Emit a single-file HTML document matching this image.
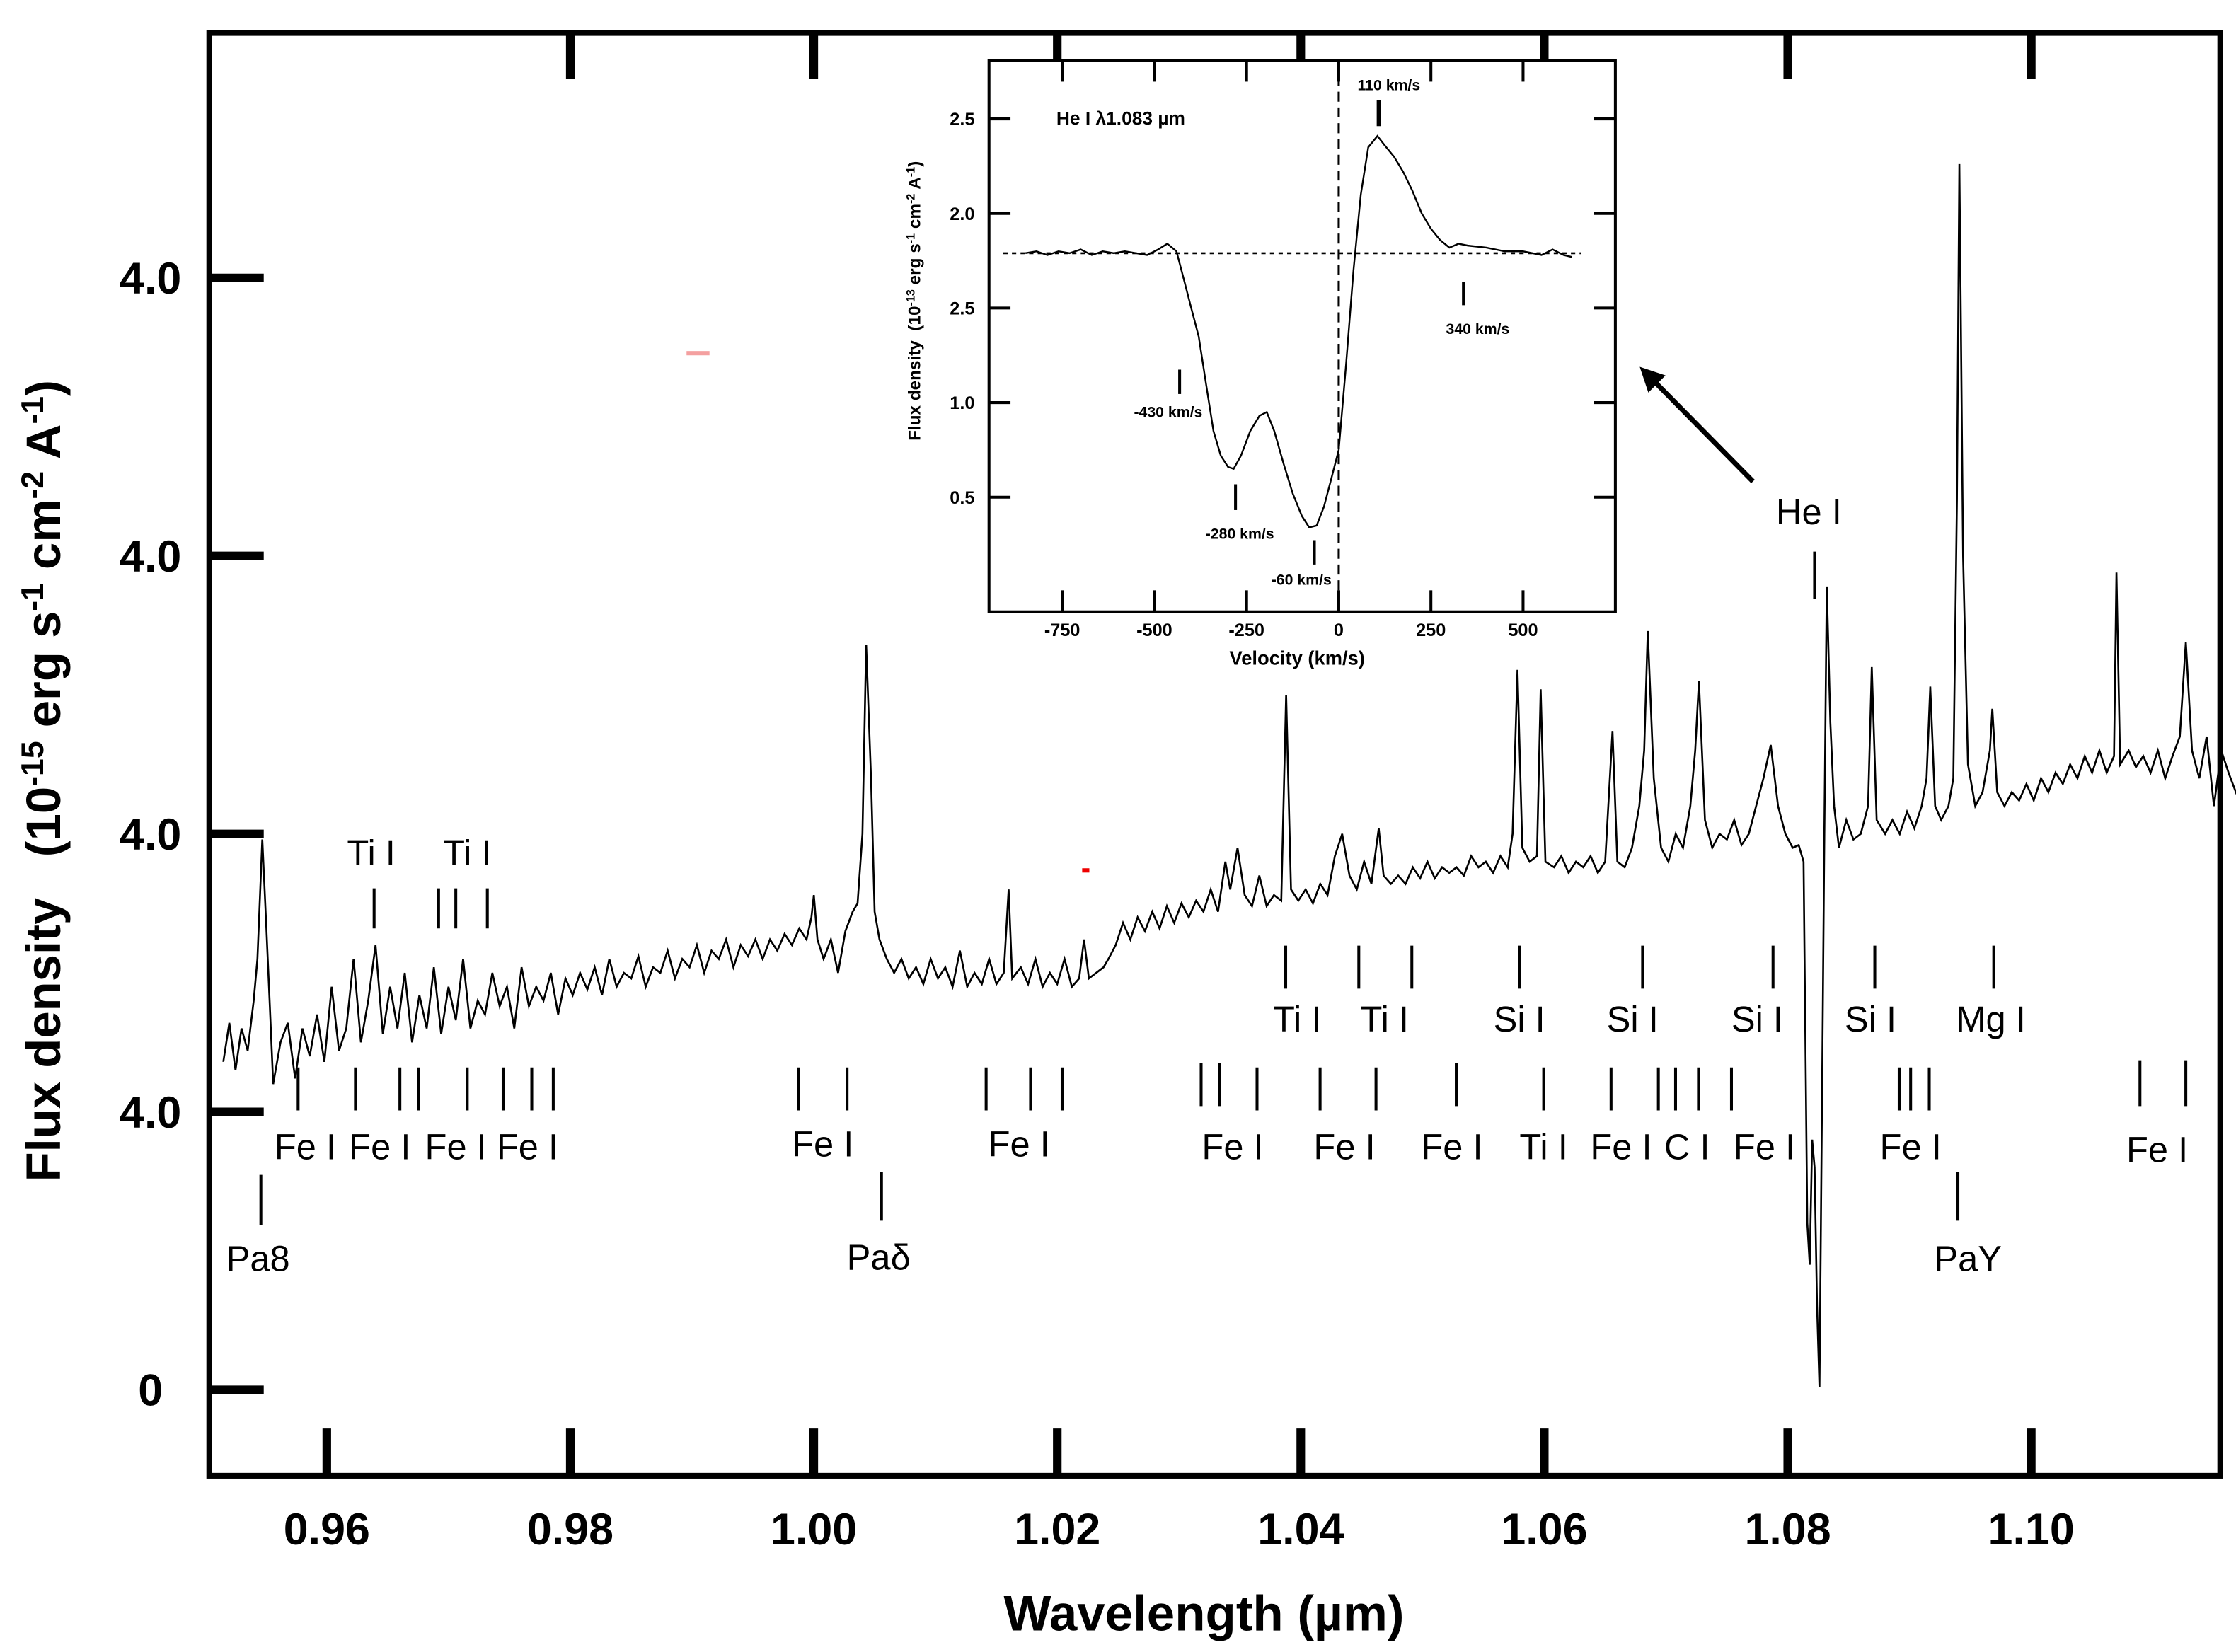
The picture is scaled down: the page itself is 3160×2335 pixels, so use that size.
<!DOCTYPE html>
<html><head><meta charset="utf-8">
<style>
html,body{margin:0;padding:0;background:#fff;}
svg{display:block;}
text{font-family:"Liberation Sans",sans-serif;}
.lab{font-size:25px;fill:#000;}
.tk{font-size:31px;font-weight:bold;}
.it{font-size:12.5px;font-weight:bold;}
</style></head>
<body>
<svg id="chart" xmlns="http://www.w3.org/2000/svg" width="3160" height="2335" viewBox="0 0 1560 1153" preserveAspectRatio="none">
<rect x="0" y="0" width="1560" height="1153" fill="#fff"/>
<g id="main"></g>
<g id="inset"></g>
</svg>
<script>
// ---- main spectrum data ----
const wavelengths = [0.9515,0.9520,0.9525,0.9530,0.9535,0.9540,0.9543,0.9547,0.9550,0.9553,0.9556,0.9562,0.9568,0.9574,0.9580,0.9586,0.9592,0.9598,0.9604,0.9610,0.9616,0.9622,0.9628,0.9634,0.9640,0.9646,0.9652,0.9658,0.9664,0.9670,0.9676,0.9682,0.9688,0.9694,0.9700,0.9706,0.9712,0.9718,0.9724,0.9730,0.9736,0.9742,0.9748,0.9754,0.9760,0.9766,0.9772,0.9778,0.9784,0.9790,0.9796,0.9802,0.9808,0.9814,0.9820,0.9826,0.9832,0.9838,0.9844,0.9850,0.9856,0.9862,0.9868,0.9874,0.9880,0.9886,0.9892,0.9898,0.9904,0.9910,0.9916,0.9922,0.9928,0.9934,0.9940,0.9946,0.9952,0.9958,0.9964,0.9970,0.9976,0.9982,0.9988,0.9994,0.9998,1.0000,1.0003,1.0008,1.0014,1.0020,1.0026,1.0032,1.0036,1.0040,1.0043,1.0047,1.0050,1.0054,1.0060,1.0066,1.0072,1.0078,1.0084,1.0090,1.0096,1.0102,1.0108,1.0114,1.0120,1.0126,1.0132,1.0138,1.0144,1.0150,1.0156,1.0160,1.0163,1.0170,1.0176,1.0182,1.0188,1.0194,1.0200,1.0206,1.0212,1.0218,1.0222,1.0226,1.0232,1.0238,1.0242,1.0248,1.0254,1.0260,1.0266,1.0272,1.0278,1.0284,1.0290,1.0296,1.0302,1.0308,1.0314,1.0320,1.0326,1.0332,1.0338,1.0342,1.0348,1.0354,1.0360,1.0366,1.0372,1.0378,1.0384,1.0388,1.0392,1.0398,1.0404,1.0410,1.0416,1.0422,1.0428,1.0434,1.0440,1.0446,1.0452,1.0458,1.0464,1.0468,1.0474,1.0480,1.0486,1.0492,1.0498,1.0504,1.0510,1.0516,1.0522,1.0528,1.0534,1.0540,1.0546,1.0552,1.0558,1.0564,1.0570,1.0574,1.0578,1.0582,1.0588,1.0594,1.0597,1.0601,1.0608,1.0614,1.0620,1.0626,1.0632,1.0638,1.0644,1.0650,1.0656,1.0660,1.0666,1.0672,1.0678,1.0682,1.0685,1.0690,1.0696,1.0702,1.0708,1.0714,1.0720,1.0724,1.0727,1.0732,1.0738,1.0744,1.0750,1.0756,1.0762,1.0768,1.0774,1.0780,1.0786,1.0792,1.0798,1.0804,1.0809,1.0813,1.0816,1.0818,1.0820,1.0822,1.0824,1.0826,1.0828,1.0830,1.0832,1.0835,1.0838,1.0842,1.0848,1.0854,1.0860,1.0866,1.0869,1.0873,1.0880,1.0886,1.0892,1.0898,1.0904,1.0910,1.0914,1.0917,1.0921,1.0926,1.0932,1.0936,1.0939,1.0941,1.0944,1.0948,1.0954,1.0960,1.0966,1.0968,1.0972,1.0978,1.0984,1.0990,1.0996,1.1002,1.1008,1.1014,1.1020,1.1026,1.1032,1.1038,1.1044,1.1050,1.1056,1.1062,1.1068,1.1070,1.1073,1.1080,1.1086,1.1092,1.1098,1.1104,1.1110,1.1116,1.1122,1.1127,1.1132,1.1138,1.1144,1.1150,1.1156,1.1162,1.1168,1.1171];
const fluxes = [1.18,1.32,1.15,1.30,1.22,1.40,1.55,1.98,1.70,1.40,1.10,1.25,1.32,1.12,1.30,1.20,1.35,1.18,1.45,1.22,1.30,1.55,1.25,1.40,1.60,1.28,1.45,1.30,1.50,1.25,1.42,1.30,1.52,1.28,1.45,1.33,1.55,1.30,1.40,1.35,1.50,1.38,1.45,1.30,1.52,1.38,1.45,1.40,1.50,1.35,1.48,1.42,1.50,1.44,1.52,1.42,1.55,1.45,1.50,1.48,1.56,1.45,1.52,1.50,1.58,1.48,1.55,1.52,1.60,1.50,1.58,1.55,1.62,1.52,1.60,1.56,1.62,1.55,1.62,1.58,1.64,1.60,1.66,1.62,1.70,1.78,1.62,1.55,1.62,1.50,1.65,1.72,1.75,2.00,2.68,2.20,1.72,1.62,1.55,1.50,1.55,1.48,1.52,1.46,1.55,1.48,1.52,1.45,1.58,1.45,1.50,1.46,1.55,1.46,1.50,1.80,1.48,1.52,1.46,1.55,1.45,1.50,1.46,1.55,1.45,1.48,1.62,1.48,1.50,1.52,1.55,1.60,1.68,1.62,1.70,1.65,1.72,1.66,1.74,1.68,1.75,1.70,1.76,1.72,1.80,1.72,1.90,1.80,1.95,1.78,1.74,1.85,1.74,1.78,1.76,2.50,1.80,1.76,1.80,1.75,1.82,1.78,1.92,2.00,1.85,1.80,1.90,1.82,2.02,1.85,1.82,1.85,1.82,1.88,1.84,1.90,1.84,1.88,1.86,1.88,1.85,1.92,1.88,1.90,1.86,1.92,1.88,2.00,2.59,1.95,1.90,1.92,2.52,1.90,1.88,1.92,1.86,1.90,1.88,1.92,1.86,1.90,2.37,1.90,1.88,1.95,2.10,2.30,2.73,2.20,1.95,1.90,2.00,1.95,2.10,2.30,2.55,2.05,1.95,2.00,1.98,2.05,1.96,2.00,2.10,2.20,2.32,2.10,2.00,1.95,1.96,1.90,0.60,0.45,0.90,0.80,0.30,0.01,1.00,2.00,2.89,2.40,2.10,1.95,2.05,1.98,2.00,2.10,2.60,2.05,2.00,2.05,2.00,2.08,2.02,2.10,2.20,2.53,2.10,2.05,2.10,2.20,3.20,4.41,3.00,2.25,2.10,2.15,2.30,2.45,2.15,2.10,2.15,2.12,2.18,2.12,2.20,2.15,2.22,2.18,2.25,2.20,2.28,2.22,2.30,2.22,2.28,2.94,2.25,2.30,2.24,2.28,2.22,2.30,2.20,2.28,2.35,2.69,2.30,2.20,2.35,2.10,2.30,2.22,2.15,2.18];
const xTicks = [0.96,0.98,1.00,1.02,1.04,1.06,1.08,1.10];
const xTickLabels = ["0.96","0.98","1.00","1.02","1.04","1.06","1.08","1.10"];
const yTicks = [0,1,2,3,4];
const yTickLabels = ["0","4.0","4.0","4.0","4.0"];
// ---- inset data ----
const velocities = [-850,-820,-790,-760,-730,-700,-670,-640,-610,-580,-550,-520,-490,-465,-440,-420,-400,-380,-360,-340,-320,-300,-285,-265,-240,-215,-195,-175,-150,-125,-100,-80,-60,-40,-20,0,20,40,60,80,105,125,150,175,200,225,250,275,300,325,350,400,450,500,550,580,610,633];
const insetFlux = [1.79,1.80,1.78,1.80,1.79,1.81,1.78,1.80,1.79,1.80,1.79,1.78,1.81,1.84,1.80,1.65,1.50,1.35,1.10,0.85,0.72,0.66,0.65,0.72,0.85,0.93,0.95,0.85,0.68,0.52,0.40,0.34,0.35,0.45,0.60,0.75,1.20,1.70,2.10,2.35,2.41,2.36,2.30,2.22,2.12,2.00,1.92,1.86,1.82,1.84,1.83,1.82,1.80,1.80,1.78,1.81,1.78,1.77];
const vTicks = [-750,-500,-250,0,250,500];
const vTickLabels = ["-750","-500","-250","0","250","500"];
const fTicks = [0.5,1.0,1.5,2.0,2.5];
const fTickLabels = ["0.5","1.0","2.5","2.0","2.5"];
const insetContinuum = 1.79;

const NS="http://www.w3.org/2000/svg";
function mk(parent,tag,attrs,txt){const e=document.createElementNS(NS,tag);for(const k in attrs)e.setAttribute(k,attrs[k]);if(txt!==undefined)e.textContent=txt;parent.appendChild(e);return e;}
const X=w=>228+(w-0.96)*8494;
const Y=f=>970-f*194;
const VX=v=>934+v*64.3/250;
const VY=f=>413-f*132;

const main=document.getElementById('main');
// frame
let fr=mk(main,'rect',{x:146,y:23,width:1403,height:1007,fill:'none',stroke:'#000','stroke-width':4});


xTicks.forEach((t,i)=>{
  let a=mk(main,'line',{x1:X(t),x2:X(t),y1:997,y2:1030,stroke:'#000','stroke-width':6});
  
  
  if(i>0){let b=mk(main,'line',{x1:X(t),x2:X(t),y1:23,y2:55,stroke:'#000','stroke-width':6});
  
  }
  let l=mk(main,'text',{x:X(t),y:1078,'text-anchor':'middle',class:'tk'},xTickLabels[i]);
  
  
});
yTicks.forEach((t,i)=>{
  let a=mk(main,'line',{x1:146,x2:184,y1:Y(t),y2:Y(t),stroke:'#000','stroke-width':6});
  
  
  let l=mk(main,'text',{x:105,y:Y(t)+11,'text-anchor':'middle',class:'tk'},yTickLabels[i]);
  
  
});
let xt=mk(main,'text',{x:840,y:1138,'text-anchor':'middle','font-size':35,'font-weight':'bold'},'Wavelength (µm)');


let yt=mk(main,'text',{x:0,y:0,'text-anchor':'middle','font-size':34,'font-weight':'bold',transform:'translate(42,545) rotate(-90)'});


yt.innerHTML='Flux density&#160;&#160;&#160;(10<tspan dy="-12" font-size="22">-15</tspan><tspan dy="12"> erg s</tspan><tspan dy="-12" font-size="22">-1</tspan><tspan dy="12"> cm</tspan><tspan dy="-12" font-size="22">-2</tspan><tspan dy="12"> A</tspan><tspan dy="-12" font-size="22">-1</tspan><tspan dy="12">)</tspan>';
// spectrum
let d=wavelengths.map((w,i)=>(i?'L':'M')+X(w).toFixed(1)+','+Y(fluxes[i]).toFixed(1)).join('');
let sp=mk(main,'path',{d:d,fill:'none',stroke:'#000','stroke-width':1.3});


// line identification ticks and labels
const idTicks=[[261,620,648],[306,620,648],[318,620,648],[340,620,648],
[897,660,690],[948,660,690],[985,660,690],[1060,660,690],[1146,660,690],[1237,660,690],[1308,660,690],[1391,660,690],
[208,745,775],[248,745,775],[279,745,775],[292,745,775],[326,745,775],[351,745,775],[371,745,775],[386,745,775],[557,745,775],[591,745,775],[688,745,775],[719,745,775],[741,745,775],[838,742,772],[851,742,772],[877,745,775],[921,745,775],[960,745,775],[1016,742,772],[1077,745,775],[1124,745,775],[1157,745,775],[1169,745,775],[1185,745,775],[1208,745,775],[1325,745,775],[1333,745,775],[1346,745,775],[1493,740,772],[1525,740,772],
[182,820,855],[615,818,852],[1366,818,852],[1266,385,418]];
idTicks.forEach(t=>{let e=mk(main,'line',{x1:t[0],x2:t[0],y1:t[1],y2:t[2],stroke:'#000','stroke-width':2});

});
const idLabels=[["Ti I",259,604],["Ti I",326,604],
["Ti I",905,720],["Ti I",966,720],["Si I",1060,720],["Si I",1139,720],["Si I",1226,720],["Si I",1305,720],["Mg I",1389,720],
["Fe I",213,809],["Fe I",265,809],["Fe I",318,809],["Fe I",368,809],["Fe I",574,807],["Fe I",711,807],["Fe I",860,809],["Fe I",938,809],["Fe I",1013,809],["Ti I",1077,809],["Fe I",1131,809],["C I",1177,809],["Fe I",1231,809],["Fe I",1333,809],["Fe I",1505,811],
["Paδ",180,887],["Paδ",613,886],["PaY",1373,887],["He I",1262,366]];
idLabels.forEach((l,i)=>{let e=mk(main,'text',{x:l[1],y:l[2],'text-anchor':'middle',class:'lab','font-size':i==27?29:25},i==24?'Pa8':l[0]);

});
let ar=mk(main,'line',{x1:1223,y1:336,x2:1154,y2:266,stroke:'#000','stroke-width':3.5});


let ah=mk(main,'polygon',{points:'1144,256 1162,262 1150,274',fill:'#000'});


let rd=mk(main,'rect',{x:479,y:245,width:16,height:3,fill:'#f4a0a0'});


let rd2=mk(main,'rect',{x:755,y:606,width:5,height:3,fill:'#e00'});



// ---- inset ----
const ins=document.getElementById('inset');
let ib=mk(ins,'rect',{x:690,y:42,width:437,height:385,fill:'#fff',stroke:'#000','stroke-width':2});


vTicks.forEach((t,i)=>{
  let a=mk(ins,'line',{x1:VX(t),x2:VX(t),y1:412,y2:427,stroke:'#000','stroke-width':2});
  
  
  let b=mk(ins,'line',{x1:VX(t),x2:VX(t),y1:42,y2:57,stroke:'#000','stroke-width':2});
  
  
  let l=mk(ins,'text',{x:VX(t),y:444,'text-anchor':'middle',class:'it'},vTickLabels[i]);
  
  
});
fTicks.forEach((t,i)=>{
  let a=mk(ins,'line',{x1:690,x2:705,y1:VY(t),y2:VY(t),stroke:'#000','stroke-width':2});
  
  
  let b=mk(ins,'line',{x1:1112,x2:1127,y1:VY(t),y2:VY(t),stroke:'#000','stroke-width':2});
  
  
  let l=mk(ins,'text',{x:680,y:VY(t)+4.5,'text-anchor':'end',class:'it'},fTickLabels[i]);
  
  
});
let vxt=mk(ins,'text',{x:905,y:464,'text-anchor':'middle','font-size':13.5,'font-weight':'bold'},'Velocity (km/s)');


let vyt=mk(ins,'text',{x:0,y:0,'text-anchor':'middle','font-size':12,'font-weight':'bold',transform:'translate(642,210) rotate(-90)'});


vyt.innerHTML='Flux density&#160;&#160;(10<tspan dy="-4" font-size="8">-13</tspan><tspan dy="4"> erg s</tspan><tspan dy="-4" font-size="8">-1</tspan><tspan dy="4"> cm</tspan><tspan dy="-4" font-size="8">-2</tspan><tspan dy="4"> A</tspan><tspan dy="-4" font-size="8">-1</tspan><tspan dy="4">)</tspan>';
let cont=mk(ins,'line',{x1:700,x2:1103,y1:VY(insetContinuum),y2:VY(insetContinuum),stroke:'#000','stroke-width':1.3,'stroke-dasharray':'3,3'});


let zl=mk(ins,'line',{x1:VX(0),x2:VX(0),y1:42,y2:427,stroke:'#000','stroke-width':1.5,'stroke-dasharray':'7,4'});


let id=velocities.map((v,i)=>(i?'L':'M')+VX(v).toFixed(1)+','+VY(insetFlux[i]).toFixed(1)).join('');
let ip=mk(ins,'path',{d:id,fill:'none',stroke:'#000','stroke-width':1.2});


let it=mk(ins,'text',{x:737,y:87,'font-size':13,'font-weight':'bold'},'He I  λ1.083 µm');


const ann=[["110 km/s",969,63,962,70,88,3],["340 km/s",1031,233,1021,197,213,2],["-430 km/s",815,291,823,258,275,2],["-280 km/s",865,376,862,338,356,2],["-60 km/s",908,408,917,377,394,2]];
ann.forEach(a=>{
  let t=mk(ins,'text',{x:a[1],y:a[2],'text-anchor':'middle','font-size':10.5,'font-weight':'bold'},a[0]);
  
  
  let l=mk(ins,'line',{x1:a[3],x2:a[3],y1:a[4],y2:a[5],stroke:'#000','stroke-width':a[6]});
  
  
});
</script>
</body></html>
